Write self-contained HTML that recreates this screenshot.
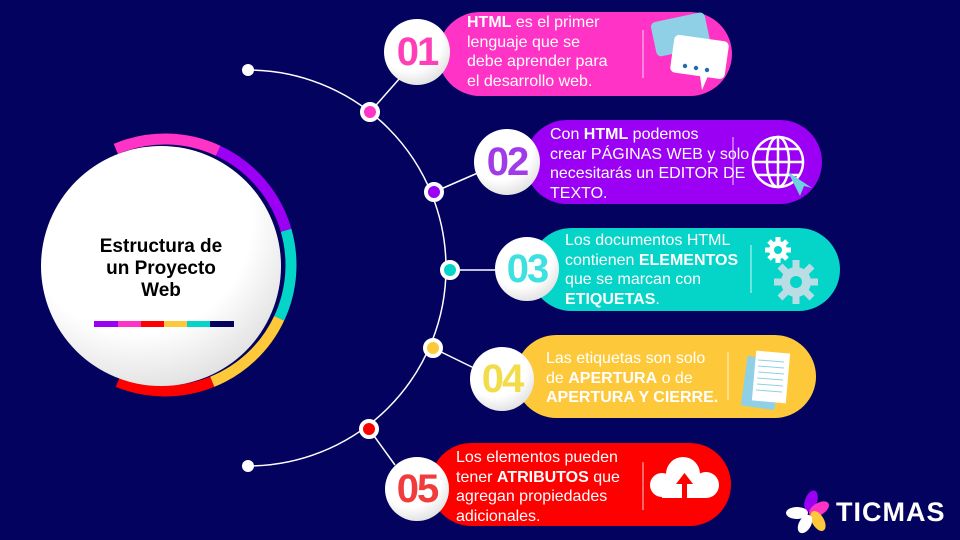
<!DOCTYPE html>
<html><head><meta charset="utf-8"><style>
body{margin:0;background:#03035f;}
#c{position:relative;width:960px;height:540px;overflow:hidden;background:#03035f;font-family:"Liberation Sans",sans-serif;}
svg{position:absolute;left:0;top:0}
.t{position:absolute;color:#fff;font-size:16px;line-height:19.5px;white-space:nowrap}
.t b{font-weight:bold}
.num{position:absolute;font-weight:bold;font-size:40px;letter-spacing:-2px;text-align:center;width:70px;line-height:40px}
</style></head><body>
<div id="c">
<svg width="960" height="540">
<defs>
<radialGradient id="wg" cx="0.4" cy="0.3" r="0.8"><stop offset="0.6" stop-color="#fff"/><stop offset="1" stop-color="#d8d8d8"/></radialGradient>
</defs>
<g fill="none" stroke-width="11">
<path stroke="#ff33c5" d="M115.8,149.0 A126,126 0 0 1 218.2,150.8"/>
<path stroke="#9b00f5" d="M218.2,150.8 A126,126 0 0 1 286.1,230.3"/>
<path stroke="#05d4c8" d="M286.1,230.3 A126,126 0 0 1 279.2,318.3"/>
<path stroke="#fdc93a" d="M279.2,318.3 A126,126 0 0 1 212.2,381.8"/>
<path stroke="#ff0000" d="M212.2,381.8 A126,126 0 0 1 117.8,381.8"/>
</g>
<circle cx="161" cy="266" r="120" fill="url(#wg)"/>
<g>
<rect x="94" y="321" width="24" height="6" fill="#9b00f5"/><rect x="118" y="321" width="23" height="6" fill="#ff33c5"/><rect x="141" y="321" width="23" height="6" fill="#ff0000"/><rect x="164" y="321" width="23" height="6" fill="#fdc93a"/><rect x="187" y="321" width="23" height="6" fill="#05d4c8"/><rect x="210" y="321" width="24" height="6" fill="#03035f"/>
</g>
<path d="M248,70 A198,198 0 0 1 248,466" fill="none" stroke="#fff" stroke-width="1.5"/>
<circle cx="248" cy="70" r="6" fill="#fff"/>
<circle cx="248" cy="466" r="6" fill="#fff"/>
<g stroke="#fff" stroke-width="1.5">
<line x1="370" y1="112" x2="400" y2="78"/><line x1="434" y1="192" x2="480" y2="172"/><line x1="450" y1="270" x2="500" y2="270"/><line x1="433" y1="348" x2="478" y2="370"/><line x1="369" y1="429" x2="395" y2="465"/>
</g>
<rect x="438" y="12" width="294" height="84" rx="42" fill="#ff33c5"/>
<rect x="525" y="120" width="297" height="84" rx="42" fill="#9b00f5"/>
<rect x="530" y="228" width="310" height="83" rx="41.5" fill="#05d4c8"/>
<rect x="515" y="335" width="301" height="83" rx="41.5" fill="#fdc93a"/>
<rect x="430" y="443" width="301" height="83" rx="41.5" fill="#ff0000"/>
<g stroke="#fff" stroke-opacity="0.8" stroke-width="1">
<line x1="643" y1="30" x2="643" y2="78"/><line x1="733" y1="137" x2="733" y2="185"/><line x1="751" y1="245" x2="751" y2="293"/><line x1="728" y1="352" x2="728" y2="400"/><line x1="643" y1="462" x2="643" y2="510"/>
</g>
<g stroke="#fff" stroke-width="4">
<circle cx="370" cy="112" r="8" fill="#ff33c5"/><circle cx="434" cy="192" r="8" fill="#9b00f5"/><circle cx="450" cy="270" r="8" fill="#05d4c8"/><circle cx="433" cy="348" r="8" fill="#fdc93a"/><circle cx="369" cy="429" r="8" fill="#ff0000"/>
</g>
<g fill="url(#wg)">
<circle cx="417" cy="52" r="33"/><circle cx="507" cy="162" r="33"/><circle cx="527" cy="269" r="32"/><circle cx="502" cy="379" r="32"/><circle cx="417" cy="489" r="32"/>
</g>
<g>
<rect x="653" y="17" width="55" height="35" rx="5" fill="#8fd0e6" transform="rotate(-12 680 34)"/>
<rect x="672" y="38" width="55" height="38" rx="5" fill="#fff" transform="rotate(8 700 57)"/>
<polygon points="700,76 708,76 702,90" fill="#fff"/>
<circle cx="685" cy="66" r="2.2" fill="#1e6bb0"/><circle cx="696" cy="68" r="2.2" fill="#1e6bb0"/><circle cx="707" cy="70" r="2.2" fill="#1e6bb0"/>
</g>
<g fill="none" stroke="#fff" stroke-width="2.5">
<circle cx="778" cy="162" r="25"/><ellipse cx="778" cy="162" rx="11" ry="25"/><line x1="778" y1="137" x2="778" y2="187"/><line x1="753" y1="162" x2="803" y2="162"/><path d="M757,149 H799 M757,175 H799"/>
<polygon points="788,172 800,196 804,186 812,188" fill="#6fd0e0" stroke="none"/>
</g>
<g>
<g stroke="#fff" stroke-width="5"><line x1="778" y1="237" x2="778" y2="263"/><line x1="765" y1="250" x2="791" y2="250"/><line x1="769" y1="241" x2="787" y2="259"/><line x1="787" y1="241" x2="769" y2="259"/></g>
<circle cx="778" cy="250" r="9" fill="#fff"/><circle cx="778" cy="250" r="4" fill="#05d4c8"/>
<g stroke="#b9dde4" stroke-width="7"><line x1="796" y1="260" x2="796" y2="304"/><line x1="774" y1="282" x2="818" y2="282"/><line x1="780" y1="266" x2="812" y2="298"/><line x1="812" y1="266" x2="780" y2="298"/></g>
<circle cx="796" cy="282" r="15" fill="#b9dde4"/><circle cx="796" cy="282" r="6" fill="#05d4c8"/>
</g>
<g>
<rect x="744" y="358" width="34" height="50" fill="#8fd0e6" transform="rotate(8 761 383)"/>
<rect x="754" y="352" width="34" height="50" fill="#fff" transform="rotate(5 771 377)"/>
<g stroke="#8fd0e6" stroke-width="1"><line x1="758" y1="360" x2="784" y2="362"/><line x1="758" y1="366" x2="784" y2="368"/><line x1="758" y1="372" x2="784" y2="374"/><line x1="757" y1="378" x2="783" y2="380"/><line x1="757" y1="384" x2="783" y2="386"/><line x1="756" y1="390" x2="782" y2="392"/></g>
</g>
<g>
<circle cx="662" cy="485" r="12" fill="#fff"/><circle cx="683" cy="474" r="17" fill="#fff"/><circle cx="706" cy="485" r="13" fill="#fff"/><rect x="662" y="482" width="44" height="16" fill="#fff"/>
<rect x="682" y="480" width="5" height="19" fill="#ff0000"/><polygon points="676,484 684.5,473 693,484" fill="#ff0000"/>
</g>
<g>
<ellipse cx="811" cy="501" rx="6" ry="11" fill="#9b00f5" transform="rotate(20 811 501)"/>
<ellipse cx="819" cy="509" rx="6" ry="11" fill="#ff33c5" transform="rotate(60 819 509)"/>
<ellipse cx="818" cy="521" rx="6" ry="11" fill="#fdc93a" transform="rotate(-30 818 521)"/>
<ellipse cx="797" cy="513" rx="11" ry="6" fill="#fff"/>
<ellipse cx="805" cy="524" rx="6" ry="10" fill="#fff" transform="rotate(30 805 524)"/>
</g>
</svg>
<div class="t" style="left:61px;top:236px;width:200px;text-align:center;color:#000;font-weight:bold;font-size:19px;line-height:22px">Estructura de<br>un Proyecto<br>Web</div>
<div class="num" style="left:382px;top:32px;color:#ff3fb8">01</div>
<div class="num" style="left:472px;top:142px;color:#a13be8">02</div>
<div class="num" style="left:492px;top:249px;color:#3ee0e0">03</div>
<div class="num" style="left:467px;top:359px;color:#f2dc4a">04</div>
<div class="num" style="left:382px;top:469px;color:#f03c3c">05</div>
<div class="t" style="left:467px;top:13px"><b>HTML</b> es el primer<br>lenguaje que se<br>debe aprender para<br>el desarrollo web.</div>
<div class="t" style="left:550px;top:125px">Con <b>HTML</b> podemos<br>crear PÁGINAS WEB y solo<br>necesitarás un EDITOR DE<br>TEXTO.</div>
<div class="t" style="left:565px;top:231px">Los documentos HTML<br>contienen <b>ELEMENTOS</b><br>que se marcan con<br><b>ETIQUETAS</b>.</div>
<div class="t" style="left:546px;top:349px">Las etiquetas son solo<br>de <b>APERTURA</b> o de<br><b>APERTURA Y CIERRE.</b></div>
<div class="t" style="left:456px;top:448px">Los elementos pueden<br>tener <b>ATRIBUTOS</b> que<br>agregan propiedades<br>adicionales.</div>
<div class="t" style="left:836px;top:497px;font-weight:bold;font-size:27px;line-height:30px;letter-spacing:1px">TICMAS</div>
</div>
</body></html>
